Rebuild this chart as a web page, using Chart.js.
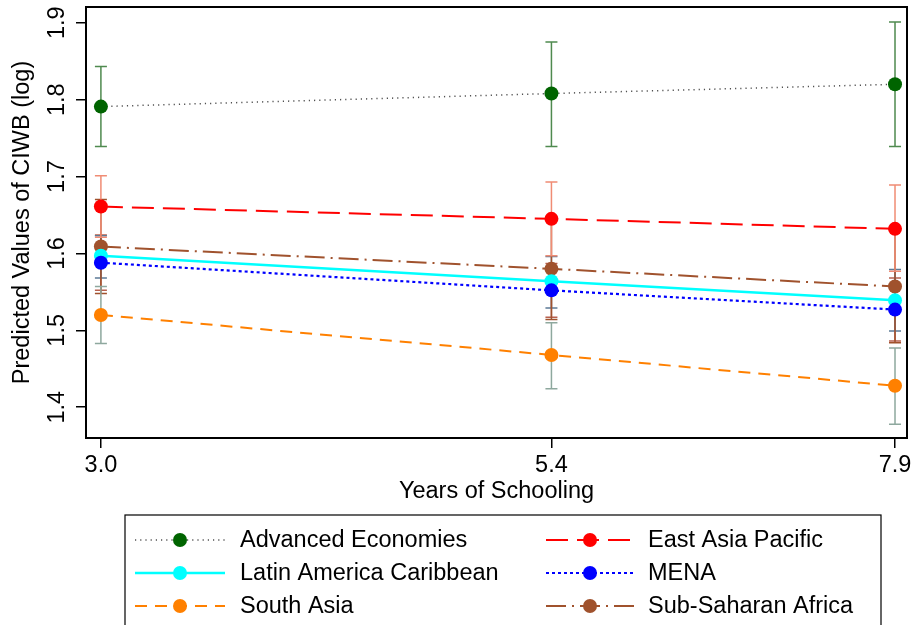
<!DOCTYPE html>
<html>
<head>
<meta charset="utf-8">
<script src="https://cdn.jsdelivr.net/npm/chart.js@4.4.0/dist/chart.umd.min.js"></script>
<style>
  html, body { margin: 0; padding: 0; background: #fff; }
  canvas { display: block; }
</style>
</head>
<body>
<canvas id="ciwbChart" width="914" height="625"></canvas>
<script>
// ============================================================
// 数据
// ============================================================

const xLabels = ['3.0', '5.4', '7.9'];
// where each label sits on the axis in the picture
const xAt = [3.0, 5.78, 7.9];

const yTicks = [1.4, 1.5, 1.6, 1.7, 1.8, 1.9];
const yTickLabels = ['1.4', '1.5', '1.6', '1.7', '1.8', '1.9'];

const regions = ['Advanced Economies', 'East Asia Pacific', 'Latin America Caribbean',
  'MENA', 'South Asia', 'Sub-Saharan Africa'];

const advanced = [1.791, 1.808, 1.820];
const advancedLo = [1.739, 1.739, 1.739];
const advancedHi = [1.843, 1.875, 1.901];

const eastAsia = [1.661, 1.645, 1.632];
const eastAsiaLo = [1.621, 1.597, 1.577];
const eastAsiaHi = [1.701, 1.693, 1.689];

const latinAm = [1.597, 1.564, 1.539];
const latinAmLo = [1.568, 1.529, 1.499];
const latinAmHi = [1.623, 1.596, 1.579];

const mena = [1.588, 1.552, 1.527];
const menaLo = [1.552, 1.517, 1.486];
const menaHi = [1.624, 1.587, 1.568];

const southAsia = [1.520, 1.468, 1.428];
const southAsiaLo = [1.483, 1.424, 1.378];
const southAsiaHi = [1.557, 1.510, 1.477];

const subSahara = [1.609, 1.580, 1.557];
const subSaharaLo = [1.548, 1.514, 1.484];
const subSaharaHi = [1.670, 1.646, 1.630];

const FONT = 'Liberation Sans, Arial, sans-serif';
const FSIZE = 23.5;

// ============================================================
// 数据集
// ============================================================

function series(label, values, lo, hi, style) {
  return {
    label: label,
    data: values.map((v, i) => ({ x: xAt[i], y: v })),
    ciLo: lo,
    ciHi: hi,
    ciColor: style.ci,
    borderColor: style.line,
    borderWidth: style.width,
    borderDash: style.dash,
    pointBackgroundColor: style.marker,
    pointBorderWidth: 0,
    pointRadius: 7,
    fill: false,
    tension: 0
  };
}

const datasets = [
  series(regions[3], mena, menaLo, menaHi,
    { line: '#0000ff', marker: '#0000ff', ci: '#b8604e', width: 2.2, dash: [3, 3] }),
  series(regions[2], latinAm, latinAmLo, latinAmHi,
    { line: '#00ffff', marker: '#00ffff', ci: '#5c7a96', width: 2.5, dash: [] }),
  series(regions[5], subSahara, subSaharaLo, subSaharaHi,
    { line: '#a0522d', marker: '#a0522d', ci: '#a0522d', width: 2, dash: [20, 6, 2, 6] }),
  series(regions[1], eastAsia, eastAsiaLo, eastAsiaHi,
    { line: '#ff0000', marker: '#ff0000', ci: '#f08c74', width: 2, dash: [22, 9] }),
  series(regions[4], southAsia, southAsiaLo, southAsiaHi,
    { line: '#ff8000', marker: '#ff8000', ci: '#8ea89e', width: 2, dash: [12, 8] }),
  series(regions[0], advanced, advancedLo, advancedHi,
    { line: '#505050', marker: '#006400', ci: '#4f8a4f', width: 1.5, dash: [1.2, 4] })
];

// legend order (two columns, reading across)
const legendOrder = [0, 1, 2, 3, 4, 5];

// ============================================================
// 插件
// ============================================================

const errorBars = {
  id: 'errorBars',
  beforeDatasetsDraw(chart) {
    const { ctx, scales: { x, y } } = chart;
    ctx.save();
    ctx.lineWidth = 1.5;
    chart.data.datasets.forEach(ds => {
      ctx.strokeStyle = ds.ciColor;
      ds.data.forEach((pt, i) => {
        const px = x.getPixelForValue(pt.x);
        const top = y.getPixelForValue(ds.ciHi[i]);
        const bot = y.getPixelForValue(ds.ciLo[i]);
        ctx.beginPath();
        ctx.moveTo(px, top); ctx.lineTo(px, bot);
        ctx.moveTo(px - 6, top); ctx.lineTo(px + 6, top);
        ctx.moveTo(px - 6, bot); ctx.lineTo(px + 6, bot);
        ctx.stroke();
      });
    });
    ctx.restore();
  }
};

const frameAndLabels = {
  id: 'frameAndLabels',
  afterDraw(chart) {
    const { ctx, chartArea: a, scales: { y } } = chart;
    ctx.save();
    // plot frame
    ctx.strokeStyle = '#000';
    ctx.lineWidth = 2;
    ctx.strokeRect(a.left, a.top, a.right - a.left, a.bottom - a.top);

    // rotated y tick labels
    ctx.fillStyle = '#000';
    ctx.font = FSIZE + 'px ' + FONT;
    ctx.textAlign = 'center';
    ctx.textBaseline = 'middle';
    yTicks.forEach((v, i) => {
      ctx.save();
      ctx.translate(58, y.getPixelForValue(v));
      ctx.rotate(-Math.PI / 2);
      ctx.fillText(yTickLabels[i], 0, 0);
      ctx.restore();
    });

    // legend
    ctx.lineWidth = 1.2;
    ctx.strokeStyle = '#000';
    ctx.strokeRect(125, 515, 756, 130);
    const colLine = [[135, 225], [546, 634]];
    const colText = [240, 648];
    const rowY = [540, 573, 606];
    const byLabel = {};
    chart.data.datasets.forEach(ds => { byLabel[ds.label] = ds; });
    legendOrder.forEach((idx, k) => {
      const ds = byLabel[regions[idx]];
      const col = k % 2;
      const ry = rowY[Math.floor(k / 2)];
      const [x0, x1] = colLine[col];
      ctx.save();
      ctx.strokeStyle = ds.borderColor;
      ctx.lineWidth = ds.borderWidth;
      ctx.setLineDash(ds.borderDash);
      ctx.beginPath();
      ctx.moveTo(x0, ry); ctx.lineTo(x1, ry);
      ctx.stroke();
      ctx.setLineDash([]);
      ctx.fillStyle = ds.pointBackgroundColor;
      ctx.beginPath();
      ctx.arc((x0 + x1) / 2, ry, 7, 0, Math.PI * 2);
      ctx.fill();
      ctx.restore();
      ctx.fillStyle = '#000';
      ctx.textAlign = 'left';
      ctx.fillText(regions[idx], colText[col], ry + 1);
    });
    ctx.restore();
  }
};

// ============================================================
// 图表
// ============================================================

new Chart(document.getElementById('ciwbChart'), {
  type: 'line',
  data: { datasets: datasets },
  options: {
    responsive: false,
    animation: false,
    layout: { padding: { left: 0, top: 6, right: 5, bottom: 119 } },
    plugins: {
      legend: { display: false },
      tooltip: { enabled: false }
    },
    scales: {
      x: {
        type: 'linear',
        min: 2.908,
        max: 7.974,
        afterBuildTicks: scale => { scale.ticks = xAt.map(v => ({ value: v })); },
        afterFit: scale => {
          scale.height = 68;
          scale.paddingLeft = 0;
          scale.paddingRight = 0;
        },
        ticks: {
          color: '#000',
          font: { family: FONT, size: FSIZE },
          padding: 3,
          maxRotation: 0,
          callback: (value, index) => xLabels[index]
        },
        grid: { drawOnChartArea: false, drawTicks: true, tickLength: 10, color: '#000', lineWidth: 1.5 },
        border: { display: false },
        title: {
          display: true,
          text: 'Years of Schooling',
          color: '#000',
          font: { family: FONT, size: FSIZE },
          padding: { top: 0, bottom: 0 }
        }
      },
      y: {
        type: 'linear',
        min: 1.36,
        max: 1.9205,
        afterBuildTicks: scale => { scale.ticks = yTicks.map(v => ({ value: v })); },
        afterFit: scale => { scale.width = 86; },
        ticks: { display: false },
        grid: { drawOnChartArea: false, drawTicks: true, tickLength: 10, color: '#000', lineWidth: 1.5 },
        border: { display: false },
        title: {
          display: true,
          text: 'Predicted Values of CIWB (log)',
          color: '#000',
          font: { family: FONT, size: FSIZE },
          padding: { top: 8, bottom: 0 }
        }
      }
    }
  },
  plugins: [errorBars, frameAndLabels]
});
</script>
</body>
</html>
